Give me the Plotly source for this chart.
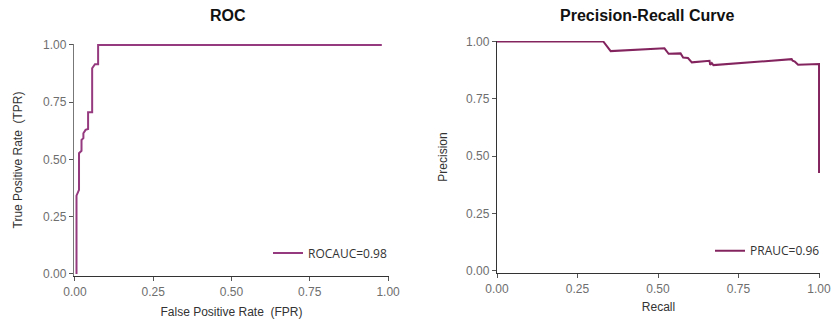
import plotly.graph_objects as go

# ROC curve data
roc_fpr = [0.005, 0.005, 0.013, 0.013, 0.021, 0.021, 0.027, 0.027, 0.034, 0.042, 0.042,
           0.055, 0.055, 0.064, 0.074, 0.074, 0.98]
roc_tpr = [0.0, 0.342, 0.367, 0.527, 0.538, 0.585, 0.593, 0.614, 0.629, 0.633, 0.706,
           0.706, 0.898, 0.916, 0.916, 1.0, 1.0]

# Precision-recall curve data
pr_recall = [0.0, 0.33, 0.353, 0.52, 0.533, 0.57, 0.578, 0.593, 0.605, 0.66, 0.662,
             0.667, 0.672, 0.915, 0.918, 0.925, 0.935, 0.997, 1.0, 1.0]
pr_precision = [1.0, 1.0, 0.958, 0.970, 0.946, 0.948, 0.930, 0.928, 0.909, 0.916, 0.898,
                0.906, 0.897, 0.923, 0.916, 0.912, 0.899, 0.902, 0.902, 0.427]

tick_vals = [0.0, 0.25, 0.5, 0.75, 1.0]
tick_text = ["0.00", "0.25", "0.50", "0.75", "1.00"]
roc_label = "ROCAUC=0.98"
pr_label = "PRAUC=0.96"

W, H = 832, 321
FONT = "Liberation Sans, Arial, sans-serif"

fig = go.Figure()
fig.add_trace(go.Scatter(x=roc_fpr, y=roc_tpr, mode="lines", name=roc_label,
                         line=dict(color="#963a7f", width=2), xaxis="x", yaxis="y",
                         legend="legend", showlegend=True))
fig.add_trace(go.Scatter(x=pr_recall, y=pr_precision, mode="lines", name=pr_label,
                         line=dict(color="#84245f", width=2), xaxis="x2", yaxis="y2",
                         legend="legend2", showlegend=True))

axis_common = dict(
    showgrid=False, zeroline=False, showline=True, linewidth=1.3,
    ticks="outside", ticklen=4, tickwidth=1, tickcolor="#555",
    tickvals=tick_vals, ticktext=tick_text, automargin=False,
    tickfont=dict(family=FONT, size=12, color="#6e6e6e"),
)

def px_x(p):
    return p / W

def px_y(p):
    return (H - p) / H

fig.update_layout(
    width=W, height=H,
    margin=dict(l=0, r=0, t=0, b=0),
    showlegend=True,
    paper_bgcolor="white", plot_bgcolor="white",
    font=dict(family=FONT, size=12, color="#333"),
    xaxis=dict(domain=[px_x(74), px_x(389)], range=[-0.003, 1.003], anchor="y",
               linecolor="#333",
               title=dict(text="False Positive Rate\u00a0 (FPR)", standoff=10,
                          font=dict(family=FONT, size=12, color="#333")),
               **axis_common),
    yaxis=dict(domain=[px_y(276), px_y(44)], range=[-0.009, 1.004], anchor="x",
               linecolor="#777",
               title=dict(text="True Positive Rate\u00a0 (TPR)", standoff=17,
                          font=dict(family=FONT, size=12, color="#333")),
               **axis_common),
    xaxis2=dict(domain=[px_x(497), px_x(820)], range=[0.0, 1.003], anchor="y2",
                linecolor="#333",
                title=dict(text="Recall", standoff=8,
                           font=dict(family=FONT, size=12, color="#333")),
                **axis_common),
    yaxis2=dict(domain=[px_y(273), px_y(41)], range=[-0.009, 1.002], anchor="x2",
                linecolor="#333",
                title=dict(text="Precision", standoff=15,
                           font=dict(family=FONT, size=12, color="#333")),
                **axis_common),
    legend=dict(x=px_x(268), y=px_y(253), xanchor="left", yanchor="middle",
                xref="paper", yref="paper",
                bgcolor="rgba(0,0,0,0)", borderwidth=0, visible=True,
                font=dict(family="Open Sans, sans-serif", size=12, color="#333")),
    legend2=dict(x=px_x(710), y=px_y(250.7), xanchor="left", yanchor="middle",
                 xref="paper", yref="paper",
                 bgcolor="rgba(0,0,0,0)", borderwidth=0, visible=True,
                 font=dict(family="Open Sans, sans-serif", size=12, color="#333")),
    annotations=[
        dict(text="<b>ROC</b>", x=px_x(228), y=px_y(15), xref="paper", yref="paper",
             xanchor="center", yanchor="middle", showarrow=False,
             font=dict(family=FONT, size=16, color="#111")),
        dict(text="<b>Precision-Recall Curve</b>", x=px_x(647), y=px_y(15),
             xref="paper", yref="paper", xanchor="center", yanchor="middle",
             showarrow=False, font=dict(family=FONT, size=16, color="#111")),
    ],
)

fig.write_html("out.html",
               config={"displayModeBar": False},
               post_script="document.body.style.margin='0';document.body.style.overflow='hidden';")
